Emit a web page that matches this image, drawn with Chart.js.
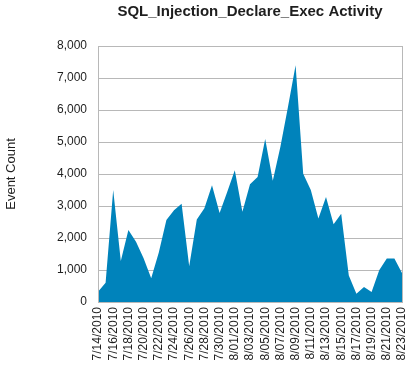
<!DOCTYPE html>
<html>
<head>
<meta charset="utf-8">
<script src="https://cdn.jsdelivr.net/npm/chart.js@4/dist/chart.umd.min.js"></script>
<style>
  html, body { margin: 0; padding: 0; background: #fff; }
  #wrap { width: 413px; height: 369px; }
</style>
</head>
<body>
<div id="wrap"><canvas id="chart" width="413" height="369"></canvas></div>
<script>
const days = [
  '7/14/2010','7/15/2010','7/16/2010','7/17/2010','7/18/2010','7/19/2010','7/20/2010',
  '7/21/2010','7/22/2010','7/23/2010','7/24/2010','7/25/2010','7/26/2010','7/27/2010',
  '7/28/2010','7/29/2010','7/30/2010','7/31/2010','8/01/2010','8/02/2010','8/03/2010',
  '8/04/2010','8/05/2010','8/06/2010','8/07/2010','8/08/2010','8/09/2010','8/10/2010',
  '8/11/2010','8/12/2010','8/13/2010','8/14/2010','8/15/2010','8/16/2010','8/17/2010',
  '8/18/2010','8/19/2010','8/20/2010','8/21/2010','8/22/2010','8/23/2010'
];
const eventCount = [
  320, 600, 3500, 1280, 2250, 1880, 1370,
  740, 1550, 2560, 2870, 3070, 1120, 2580,
  2930, 3650, 2780, 3440, 4120, 2820, 3680,
  3910, 5090, 3790, 4850, 6100, 7400, 4010,
  3500, 2610, 3280, 2430, 2760, 830, 260,
  470, 310, 990, 1360, 1360, 910
];
const yTicks = [0, 1000, 2000, 3000, 4000, 5000, 6000, 7000, 8000];

const gridGray = '#b8b8b8';
const textColor = '#1e1e1e';

const framePlugin = {
  id: 'frame',
  afterDraw(chart) {
    const { ctx, chartArea: a } = chart;
    ctx.save();
    ctx.strokeStyle = gridGray;
    ctx.lineWidth = 1;
    ctx.strokeRect(Math.round(a.left) + 0.5, Math.round(a.top) + 0.5,
      Math.round(a.right - a.left), Math.round(a.bottom - a.top));
    ctx.fillStyle = textColor;
    ctx.font = 'bold 15px "Liberation Sans", Arial, sans-serif';
    ctx.textAlign = 'center';
    ctx.textBaseline = 'middle';
    ctx.fillText('SQL_Injection_Declare_Exec Activity', (a.left + a.right) / 2, 12);
    ctx.restore();
  }
};

new Chart(document.getElementById('chart'), {
  type: 'line',
  data: {
    labels: days,
    datasets: [{
      label: 'Event Count',
      data: eventCount,
      fill: 'origin',
      backgroundColor: '#0083bb',
      borderColor: '#0083bb',
      borderWidth: 0,
      pointRadius: 0,
      tension: 0
    }]
  },
  options: {
    responsive: false,
    animation: false,
    layout: { padding: { top: 46, right: 11, left: 0, bottom: 0 } },
    plugins: {
      legend: { display: false },
      tooltip: { enabled: false }
    },
    scales: {
      x: {
        grid: { display: false, drawTicks: false },
        border: { color: gridGray },
        ticks: {
          autoSkip: false,
          maxRotation: 90,
          minRotation: 90,
          padding: 5,
          color: textColor,
          font: { family: '"Liberation Sans", Arial, sans-serif', size: 12 },
          callback: (v, i) => (i % 2 === 0 ? days[i] : '')
        },
        afterFit: s => {
          s.height = 67;
          s.paddingLeft = 0;
          s.paddingRight = 0;
        }
      },
      y: {
        min: 0,
        max: 8000,
        afterBuildTicks: s => { s.ticks = yTicks.map(v => ({ value: v })); },
        grid: { color: gridGray, drawTicks: false },
        border: { color: gridGray },
        ticks: {
          padding: 11,
          color: textColor,
          font: { family: '"Liberation Sans", Arial, sans-serif', size: 12 },
          callback: v => v.toLocaleString('en-US')
        },
        title: {
          display: true,
          text: 'Event Count',
          color: textColor,
          padding: { top: 4, bottom: 0 },
          font: { family: '"Liberation Sans", Arial, sans-serif', size: 13 }
        },
        afterFit: s => {
          s.width = 98;
          s.paddingTop = 0;
          s.paddingBottom = 0;
        }
      }
    }
  },
  plugins: [framePlugin]
});
</script>
</body>
</html>
